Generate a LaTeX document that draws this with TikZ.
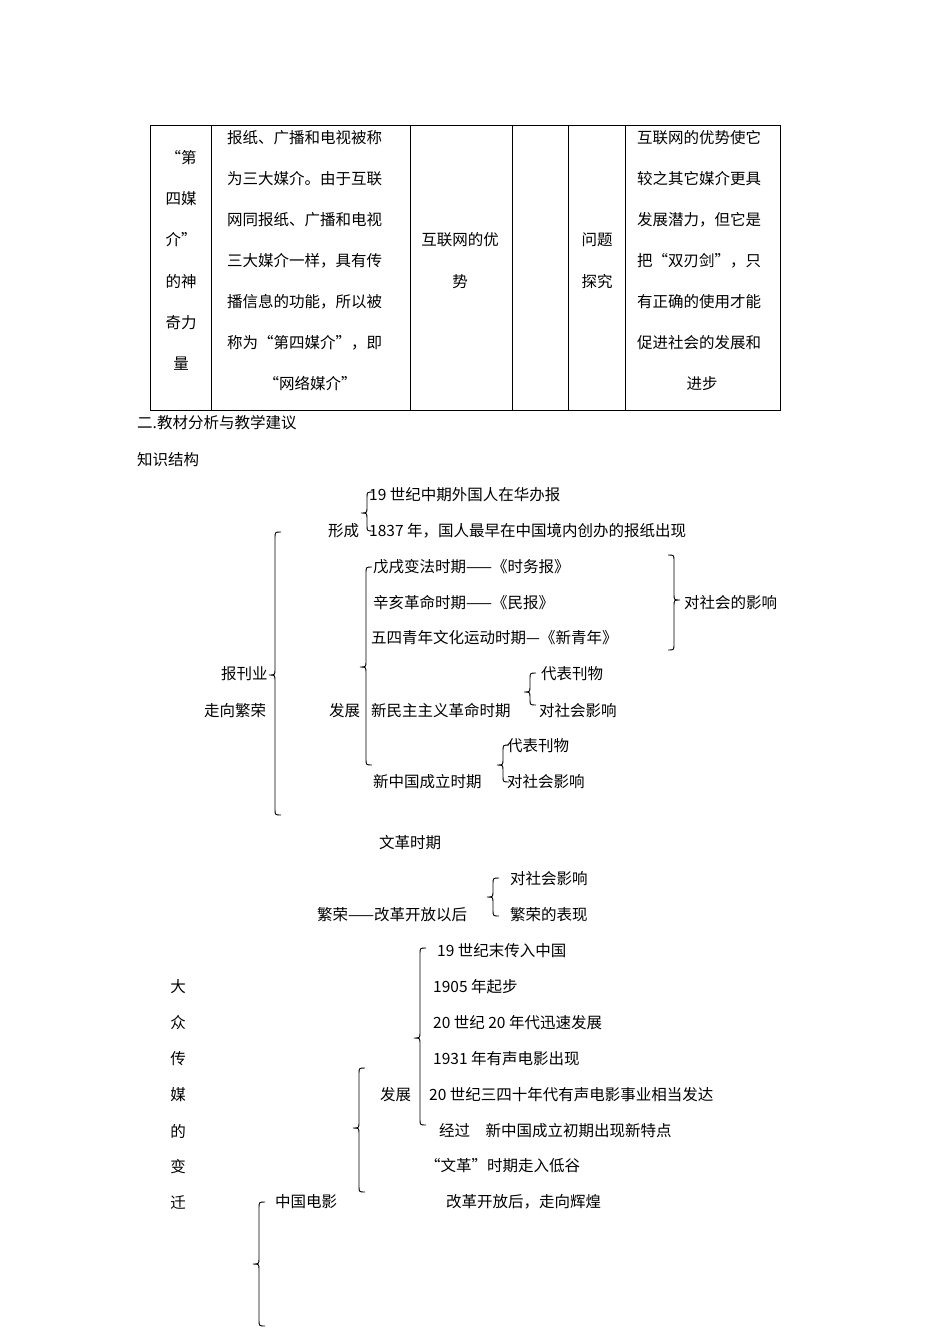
\documentclass[tikz,border=0pt]{standalone}
\usepackage{fontspec}
\setmainfont{Noto Sans CJK SC}
\tikzset{
  tx/.style={anchor=west,inner sep=0pt,font=\fontsize{15.5}{16}\selectfont},
  tc/.style={anchor=center,inner sep=0pt,font=\fontsize{15.5}{16}\selectfont},
  br/.style={line width=0.9pt},
  tb/.style={line width=0.8pt}
}
\newcommand\bracel[4]{\draw[br] (#1+6,#2) .. controls (#1,#2) .. (#1,#2+6) -- (#1,#4-6) .. controls (#1,#4) .. (#1-6,#4) .. controls (#1,#4) .. (#1,#4+6) -- (#1,#3-6) .. controls (#1,#3) .. (#1+6,#3);}
\newcommand\bracer[4]{\draw[br] (#1-6,#2) .. controls (#1,#2) .. (#1,#2+6) -- (#1,#4-6) .. controls (#1,#4) .. (#1+6,#4) .. controls (#1,#4) .. (#1,#4+6) -- (#1,#3-6) .. controls (#1,#3) .. (#1-6,#3);}
\begin{document}
\begin{tikzpicture}[x=1pt,y=-1pt]
\useasboundingbox[fill=white] (0,0) rectangle (950,1344);
% table
\draw[tb] (150,125) rectangle (780,410);
\foreach \c in {211,410,512,568,625} \draw[tb] (\c,125) -- (\c,410);
\node[tc] (a1) at (181,158) {“第};
\node[tc] (a2) at (181,199) {四媒};
\node[tc] (a3) at (181,240) {介”};
\node[tc] (a4) at (181,282) {的神};
\node[tc] (a5) at (181,323) {奇力};
\node[tc] (a6) at (181,364) {量};
\node[tx] (b1) at (227,138) {报纸、广播和电视被称};
\node[tx] (b2) at (227,179) {为三大媒介。由于互联};
\node[tx] (b3) at (227,220) {网同报纸、广播和电视};
\node[tx] (b4) at (227,261) {三大媒介一样，具有传};
\node[tx] (b5) at (227,302) {播信息的功能，所以被};
\node[tx] (b6) at (227,343) {称为“第四媒介”，即};
\node[tc] (b7) at (310,384) {“网络媒介”};
\node[tc] (c1) at (460,240) {互联网的优};
\node[tc] (c2) at (460,282) {势};
\node[tc] (d1) at (597,240) {问题};
\node[tc] (d2) at (597,282) {探究};
\node[tx] (e1) at (637,138) {互联网的优势使它};
\node[tx] (e2) at (637,179) {较之其它媒介更具};
\node[tx] (e3) at (637,220) {发展潜力，但它是};
\node[tx] (e4) at (637,261) {把“双刃剑”，只};
\node[tx] (e5) at (637,302) {有正确的使用才能};
\node[tx] (e6) at (637,343) {促进社会的发展和};
\node[tc] (e7) at (702,384) {进步};
% headings
\node[tx] (h1) at (137,423) {二.教材分析与教学建议};
\node[tx] (h2) at (137,460) {知识结构};
% structure 1
\node[tx] (s1) at (369,495) {19 世纪中期外国人在华办报};
\node[tx] (s2) at (328,531) {形成};
\node[tx] (s3) at (369,531) {1837 年，国人最早在中国境内创办的报纸出现};
\node[tx] (s4) at (373,567) {戊戌变法时期——《时务报》};
\node[tx] (s5) at (373,603) {辛亥革命时期——《民报》};
\node[tx] (s6) at (371,638) {五四青年文化运动时期—《新青年》};
\node[tx] (s7) at (684,603) {对社会的影响};
\node[tx] (s8) at (221,674) {报刊业};
\node[tx] (s9) at (204,711) {走向繁荣};
\node[tx] (s10) at (541,674) {代表刊物};
\node[tx] (s11) at (329,711) {发展};
\node[tx] (s12) at (371,711) {新民主主义革命时期};
\node[tx] (s13) at (539,711) {对社会影响};
\node[tx] (s14) at (507,746) {代表刊物};
\node[tx] (s15) at (373,782) {新中国成立时期};
\node[tx] (s16) at (507,782) {对社会影响};
\node[tx] (s17) at (379,843) {文革时期};
\node[tx] (s18) at (510,879) {对社会影响};
\node[tx] (s19) at (317,915) {繁荣——改革开放以后};
\node[tx] (s20) at (510,915) {繁荣的表现};
% structure 2
\node[tx] (m1) at (437,951) {19 世纪末传入中国};
\node[tx] (m2) at (433,987) {1905 年起步};
\node[tx] (m3) at (433,1023) {20 世纪 20 年代迅速发展};
\node[tx] (m4) at (433,1059) {1931 年有声电影出现};
\node[tx] (m5) at (380,1095) {发展};
\node[tx] (m6) at (429,1095) {20 世纪三四十年代有声电影事业相当发达};
\node[tx] (m7) at (439,1131) {经过\quad 新中国成立初期出现新特点};
\node[tx] (m8) at (425,1166) {“文革”时期走入低谷};
\node[tx] (m9) at (275,1202) {中国电影};
\node[tx] (m10) at (446,1202) {改革开放后，走向辉煌};
\foreach \ch [count=\i] in {大,众,传,媒,的,变,迁}
  \node[tc] (v\i) at (178,951+36*\i) {\ch};
% braces
\bracel{367}{492}{531}{513}
\bracel{275}{532}{815}{675}
\bracel{366}{567}{765}{667}
\bracer{674}{555}{650}{600}
\bracel{530}{673}{705}{692}
\bracel{503}{745}{782}{765}
\bracel{493}{878}{916}{897}
\bracel{420}{948}{1125}{1038}
\bracel{359}{1068}{1192}{1128}
\bracel{259}{1202}{1326}{1264}
\end{tikzpicture}
\end{document}
